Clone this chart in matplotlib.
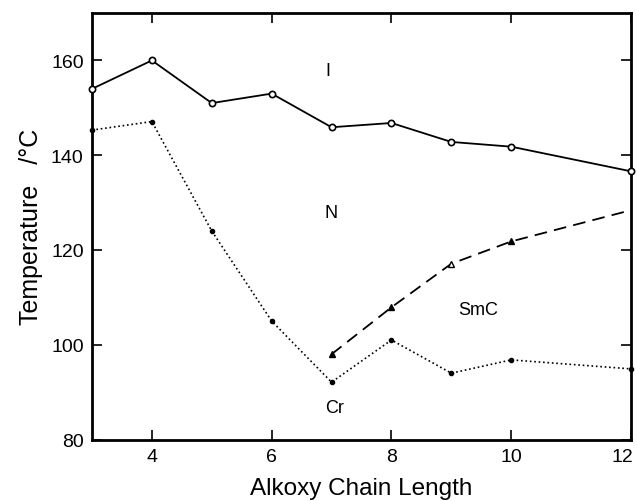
import matplotlib
matplotlib.use('Agg')
import matplotlib.pyplot as plt
import matplotlib.transforms as mtransforms

plt.rcParams['font.family'] = ['Liberation Sans', 'DejaVu Sans']

# Transition temperatures vs alkoxy chain length
chain = [3, 4, 5, 6, 7, 8, 9, 10, 12]
t_iso = [154, 160, 151, 153, 145.9, 146.8, 142.8, 141.8, 136.6]
t_cr = [145.3, 147.1, 124, 105, 92.1, 101, 94, 96.8, 94.9]

chain_smc = [7, 8, 9, 10, 12]
t_smc = [98, 107.9, 117.1, 121.8, 128.4]

# phase region labels
phase_labels = ['I', 'N', 'SmC', 'Cr']
phase_x = [6.94, 7.0, 9.45, 7.05]
phase_y = [157.9, 128.0, 107.4, 86.7]

fig = plt.figure(figsize=(6.37, 5.02), dpi=100)
ax = fig.add_axes([0.1444, 0.1225, 0.8462, 0.8495])

ax.plot(chain, t_iso, color='black', linestyle='-', linewidth=1.3,
        marker='o', markersize=4.5, markerfacecolor='white', markeredgewidth=1.2,
        clip_on=False, zorder=3)
ax.plot(chain, t_cr, color='black', linestyle=':', linewidth=1.2,
        marker='o', markersize=3, clip_on=False, zorder=3)
ax.plot(chain_smc, t_smc, color='black', linestyle=(0, (7, 4)), linewidth=1.3,
        clip_on=False, zorder=3)
# filled triangles except at n=9 (open)
filled = [i for i, n in enumerate(chain_smc) if n not in (9, 12)]
ax.plot([chain_smc[i] for i in filled], [t_smc[i] for i in filled], linestyle='none',
        marker='^', markersize=4.5, color='black', zorder=4)
ax.plot([chain_smc[2]], [t_smc[2]], linestyle='none', marker='^', markersize=4.5,
        markerfacecolor='white', markeredgecolor='black', markeredgewidth=1, zorder=4)

for lab, x, y in zip(phase_labels, phase_x, phase_y):
    ax.text(x, y, lab, fontsize=13, ha='center', va='center')

ax.set_xlim(3, 12)
ax.set_ylim(80, 170)
ax.set_xticks([4, 6, 8, 10, 12])
ax.set_yticks([80, 100, 120, 140, 160])

ax.tick_params(direction='in', length=7, width=1.2, top=True, right=True,
               labelsize=14, pad=6)
for s in ax.spines.values():
    s.set_linewidth(2)

# nudge the last x tick label so it stays inside the figure
fig.canvas.draw()
last = ax.get_xticklabels()[-1]
last.set_transform(last.get_transform() +
                   mtransforms.ScaledTranslation(-6 / 72, 0, fig.dpi_scale_trans))

ax.set_xlabel('Alkoxy Chain Length', fontsize=17.5, labelpad=9)
ax.set_ylabel('Temperature   /°C', fontsize=18, labelpad=6)

fig.savefig('out.png', dpi=100)
